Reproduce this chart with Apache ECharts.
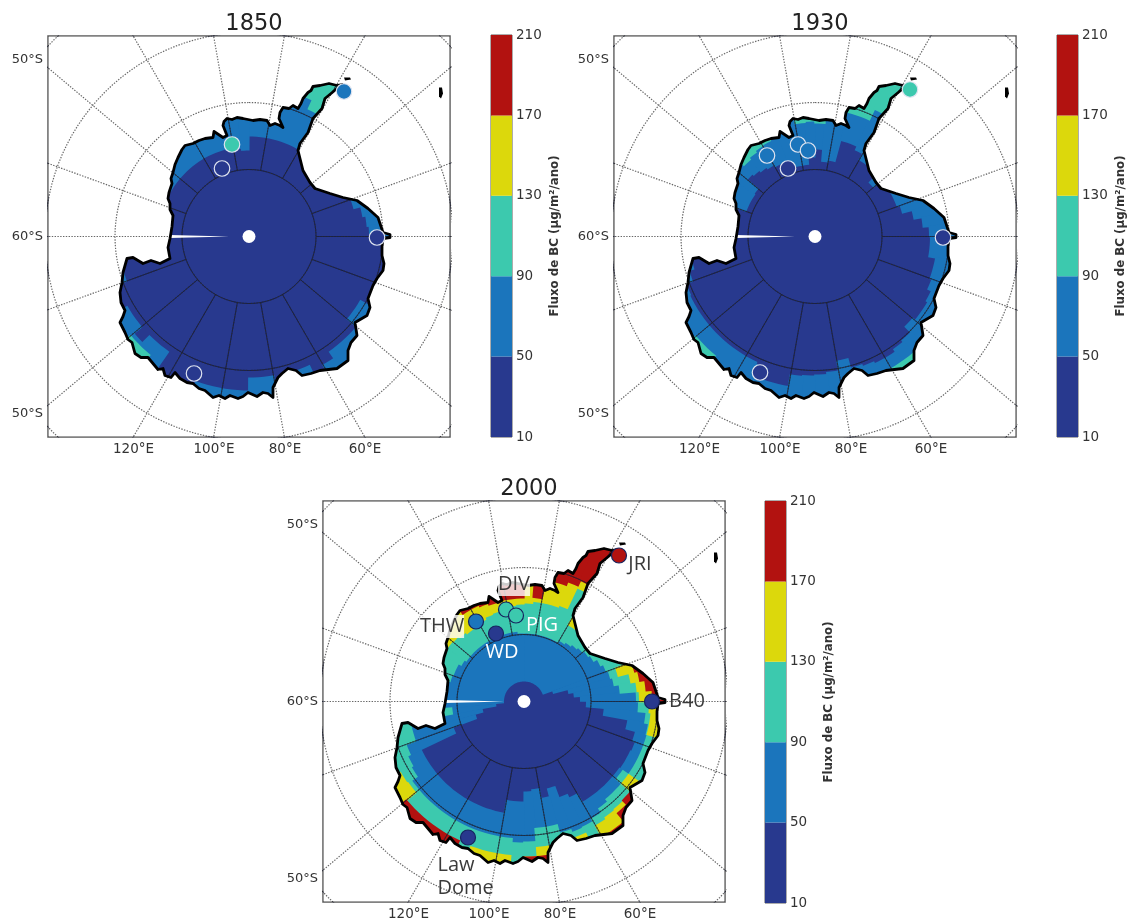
<!DOCTYPE html>
<html><head><meta charset="utf-8"><style>html,body{margin:0;padding:0;background:#fff}#c{width:1131px;height:921px}</style>
<script src="https://cdn.jsdelivr.net/npm/echarts@6/dist/echarts.min.js"></script></head><body><div id="c"></div>
<script>
const N = 999; // flux threshold never reached in this sector
const panelTitles = ['1850','1930','2000'];
const fluxEdges = [10,50,90,130,170,210];
const classColors = ['#28398e','#1b75bc','#3cc9ae','#dcd80c','#b21210'];
const lonTicks = [-115.5,-35,36,116];
const lonLabels = ['120°E','100°E','80°E','60°E'];
const latTicks = [-177,0,177];
const latLabels = ['50°S','60°S','50°S'];
const latCircleRadii = [67,134,204,277];
const meridianAngles = [10,30,50,70,90,110,130,150,170,190,210,230,250,270,290,310,330,350];

// coastline in map units, east/north of the pole
const coast = [[-79,-2],[-77,10],[-76,21],[-79,27],[-79,33],[-81,38],[-80,44],[-77,53],[-78,58],[-76,64],[-74,72],[-71,79],[-67,87],[-64,91],[-56,93],[-50,96],[-44,98],[-36,99],[-35,105],[-32,103],[-31,101],[-26,99],[-22,101],[-26,111],[-25,115],[-22,118],[-17,117],[-12,119],[-6,118],[4,116],[11,117],[18,116],[21,111],[26,113],[31,111],[34,109],[30,118],[31,124],[34,129],[40,128],[44,131],[49,128],[52,133],[54,138],[59,144],[62,146],[64,150],[71,151],[80,153],[88,151],[93,152],[88,148],[76,138],[73,128],[64,118],[59,104],[51,93],[49,86],[54,66],[61,54],[66,48],[81,43],[94,39],[108,36],[119,28],[129,19],[134,4],[134,2],[141,2],[141,-1],[134,-2],[133,-10],[133,-19],[135,-27],[134,-34],[128,-42],[124,-49],[119,-62],[121,-71],[118,-79],[106,-86],[108,-99],[102,-106],[99,-114],[99,-124],[88,-132],[71,-134],[62,-137],[53,-139],[47,-134],[39,-132],[33,-137],[29,-141],[24,-151],[24,-161],[19,-157],[14,-156],[8,-160],[-1,-156],[-6,-160],[-11,-162],[-19,-159],[-24,-162],[-30,-159],[-36,-161],[-44,-154],[-50,-152],[-56,-147],[-62,-146],[-69,-142],[-74,-136],[-78,-141],[-84,-139],[-86,-132],[-91,-133],[-96,-127],[-101,-121],[-108,-121],[-114,-117],[-117,-106],[-121,-103],[-124,-96],[-129,-86],[-126,-80],[-124,-74],[-128,-66],[-129,-56],[-127,-46],[-126,-36],[-122,-22],[-116,-21],[-106,-27],[-98,-24],[-89,-27],[-79,-22],[-81,-11],[-79,-2]];
const islandA = [[190,149],[193,149],[194,143],[192,138],[190,140]];
const islandB = [[95,159],[101,159],[102,157],[96,156]];
const seamWedge = [[-20,0],[-79,1.6],[-79,-1.6]];

// radius per 5-degree sector (clockwise from the top) where flux passes 50, 90, 130, 170
const r1850_50 = [100,100,100,100,100,100,100,N,N,N,N,N,N,N,108,115,118,120,N,N,N,N,N,N,128,128,140,140,140,148,N,142,N,N,141,141,154,154,154,154,N,N,N,140,140,150,140,140,N,N,130,N,N,N,N,N,N,N,N,N,90,90,90,90,90,90,90,90,90,89,88,86];
const r1850_90 = [N,N,N,N,150,140,140,N,N,N,N,N,N,N,N,N,N,N,N,N,N,N,N,N,N,N,N,N,N,N,N,N,N,N,N,N,N,N,N,N,N,N,N,N,154,154,N,N,N,N,N,N,N,N,N,N,N,N,N,N,N,N,N,N,N,N,N,N,N,N,N,N];
const r1930_50 = [87,75,77,99,99,95,88,N,N,76,N,N,87,87,90,100,108,114,115,115,122,122,124,128,130,130,127,135,137,140,140,138,136,126,136,138,139,140,152,152,140,138,138,138,138,138,138,138,138,137,130,125,N,N,N,N,N,N,73,73,73,74,88,86,84,82,80,75,72,72,72,79];
const r1930_90 = [113,N,N,128,128,140,140,N,N,N,N,N,N,N,N,N,N,N,N,N,N,N,N,N,N,N,N,N,152,152,N,N,N,N,N,N,N,N,N,N,N,N,N,N,155,155,N,N,N,N,N,N,N,N,N,N,N,N,N,N,N,N,N,100,102,104,105,N,N,N,114,115];
const r2000_50 = [20,20,20,20,20,20,20,20,20,20,20,20,20,20,30,45,50,56,62,80,105,115,118,117,117,116,116,116,116,116,106,102,90,98,88,90,100,100,113,113,113,113,113,113,113,113,113,113,113,75,50,42,28,20,20,20,20,20,20,20,20,20,20,20,20,20,20,20,20,20,20,20];
const r2000_90 = [68,68,68,68,68,68,70,72,74,76,78,80,84,87,89,91,96,112,114,122,126,127,127,127,127,120,127,127,130,135,138,139,136,127,127,140,141,137,137,137,137,137,137,137,137,137,137,130,128,125,115,115,72,N,N,N,N,76,75,75,72,70,70,70,70,70,70,70,70,70,70,68];
const r2000_130 = [98,100,100,100,102,125,88,N,N,N,N,N,N,N,97,108,113,115,125,127,127,N,N,N,N,127,N,140,141,143,N,145,N,N,146,155,N,154,154,154,N,N,N,N,N,N,141,142,N,N,N,N,N,N,N,N,N,N,N,N,N,93,92,90,88,89,90,92,93,95,96,97];
const r2000_170 = [N,104,N,123,127,133,134,N,N,N,N,N,N,N,114,117,122,128,N,N,N,N,N,N,N,N,139,145,156,156,N,N,N,N,155,155,N,N,N,N,N,153,153,153,153,153,N,N,N,N,N,N,N,N,N,N,N,N,N,N,N,N,N,N,N,106,106,104,102,103,103,103];
const panelThresholds = [[r1850_50,r1850_90],[r1930_50,r1930_90],[r2000_50,r2000_90,r2000_130,r2000_170]];

// ice-core sites: east, north, flux class colour per panel
const sites1850 = [[95,145,1],[-17,92,2],[-27,68,0],[128,-1,0],[-55,-137,0]];
const sites1930 = [[95,147,2],[-48,81,1],[-17,92,1],[-7,86,1],[-27,68,0],[128,-1,0],[-55,-136,0]];
const sites2000 = [[95,146,4],[-48,80,1],[-18,92,2],[-8,86,2],[-28,68,0],[128,0,0],[-56,-136,0]];
const panelSites = [sites1850,sites1930,sites2000];
const siteLabelText = ['JRI','DIV','THW','PIG','WD','B40','Law\nDome'];
const siteLabelX = [116,-10,-82,18,-22,163,-87];
const siteLabelY = [137,117,75,76,49,0,-175];
const siteLabelCol = ['#3a3a3a','#3a3a3a','#3a3a3a','#ffffff','#ffffff','#3a3a3a','#3a3a3a'];

const mapBoxes = [[48,36],[614,36],[323,501]];
const barBoxes = [[491,35],[1057,35],[765,501]];
const sectorWidth = 5, cellOuter = 185, seamPad = 0.35;

function polar(r,deg){const a=deg*Math.PI/180;return [r*Math.sin(a),r*Math.cos(a)];}
function arc(r,t0,t1){const o=[],n=Math.max(2,Math.ceil((t1-t0)/2.5));for(let i=0;i<=n;i++)o.push(polar(r,t0+(t1-t0)*i/n));return o;}
function cellItem(params,api){
  const t0=api.value(0)-seamPad,t1=api.value(1)+seamPad,r0=api.value(2),c=api.value(3);
  const pts=arc(r0,t0,t1).concat(arc(cellOuter,t0,t1).reverse()).map(p=>api.coord(p));
  return {type:'polygon',shape:{points:pts},style:{fill:classColors[c]}};
}
function maskItem(params,api){
  const f=[[-200.2,199.8],[200.2,199.8],[200.2,-199.8],[-200.2,-199.8],[-200.2,199.8]];
  const rev=coast.slice().reverse();
  return {type:'polygon',shape:{points:f.concat(rev).map(p=>api.coord(p))},style:{fill:'#fff'}};
}
function polyItem(poly,fill){return (params,api)=>({type:'polygon',shape:{points:poly.map(p=>api.coord(p))},style:{fill}});}
function graticule(){
  const d=[];
  latCircleRadii.forEach(r=>{for(let a=0;a<=360;a+=3)d.push(polar(r,a));d.push(['-','-']);});
  meridianAngles.forEach(a=>{d.push(polar(latCircleRadii[0],a));d.push(polar(latCircleRadii[3],a));d.push(['-','-']);});
  return d;
}
function cellsFor(thresholds){
  const cells=[[0,360,0,0]];
  thresholds.forEach((arr,j)=>{
    let k=0;
    while(k<arr.length){
      let e=k; while(e+1<arr.length&&arr[e+1]===arr[k])e++;
      if(arr[k]!==N)cells.push([k*sectorWidth,(e+1)*sectorWidth,arr[k],j+1]);
      k=e+1;
    }
  });
  return cells;
}

const grid=[],xAxis=[],yAxis=[],series=[],title=[];
mapBoxes.forEach((b,i)=>{
  grid.push({left:b[0],top:b[1],width:402,height:401,show:true,borderColor:'#5a5a5a',borderWidth:1.5,backgroundColor:'#fff'});
  xAxis.push({gridIndex:i,type:'value',min:-201,max:201,position:'bottom',axisLine:{show:false},axisTick:{show:false},splitLine:{show:false},
    axisLabel:{customValues:lonTicks,margin:5,fontFamily:'DejaVu Sans',fontSize:13.5,color:'#333',formatter:v=>lonLabels[lonTicks.indexOf(v)]}});
  yAxis.push({gridIndex:i,type:'value',min:-200.5,max:200.5,position:'left',axisLine:{show:false},axisTick:{show:false},splitLine:{show:false},
    axisLabel:{customValues:latTicks,margin:5,fontFamily:'DejaVu Sans',fontSize:13,color:'#333',formatter:v=>latLabels[latTicks.indexOf(v)]}});
  title.push({text:panelTitles[i],left:b[0]+201,top:b[1]-28,textAlign:'center',textStyle:{fontFamily:'DejaVu Sans',fontSize:22.5,fontWeight:'normal',color:'#222'}});
  const on={xAxisIndex:i,yAxisIndex:i,silent:true,animation:false};
  const lines=graticule();
  series.push({...on,type:'custom',z:1,data:cellsFor(panelThresholds[i]),renderItem:cellItem});
  // thin solid graticule, visible only over the ice sheet because the mask covers the ocean
  series.push({...on,type:'line',z:1.5,data:lines,showSymbol:false,clip:true,connectNulls:false,lineStyle:{color:'#0c1130',width:0.9,opacity:.75}});
  series.push({...on,type:'custom',z:2,data:[[0,0]],renderItem:maskItem});
  series.push({...on,type:'line',z:3,data:lines,showSymbol:false,clip:true,connectNulls:false,lineStyle:{color:'rgba(45,45,45,.72)',width:1.2,type:[1.4,1.4]}});
  series.push({...on,type:'custom',z:4,data:[[0,0]],renderItem:polyItem(seamWedge,'#fff')});
  series.push({...on,type:'custom',z:4,data:[[0,0]],renderItem:polyItem(islandA,'#000')});
  series.push({...on,type:'custom',z:4,data:[[0,0]],renderItem:polyItem(islandB,'#000')});
  series.push({...on,type:'line',z:5,data:coast,showSymbol:false,lineStyle:{color:'#000',width:2.8,join:'round'}});
  series.push({...on,type:'scatter',z:6,data:[[0,0]],symbolSize:13,itemStyle:{color:'#fff',opacity:1}});
  series.push({...on,type:'scatter',z:7,symbolSize:i===2?15:15.5,
    data:panelSites[i].map(s=>({value:[s[0],s[1]],itemStyle:{opacity:1,color:classColors[s[2]],borderColor:i===2?'#16245f':'#dfe4f0',borderWidth:1.2}}))});
  if(i===2){
    series.push({...on,type:'scatter',z:8,symbolSize:1,itemStyle:{color:'rgba(0,0,0,0)',opacity:1},
      data:siteLabelText.map((t,j)=>({value:[siteLabelX[j],siteLabelY[j]],name:t,
        label:{show:true,opacity:1,formatter:'{b}',position:t.includes('\n')?'right':'inside',distance:0,align:t.includes('\n')?'left':'center',verticalAlign:'middle',
          fontFamily:'Open Sans',fontSize:20,lineHeight:23,color:siteLabelCol[j],
          backgroundColor:(t==='DIV'||t==='THW')?'rgba(255,255,255,.8)':'transparent'}}))});
  }
});
barBoxes.forEach((b,n)=>{
  const i=mapBoxes.length+n;
  grid.push({left:b[0],top:b[1],width:21,height:402,show:true,borderColor:'#5a5a5a',borderWidth:1});
  xAxis.push({gridIndex:i,type:'value',min:0,max:1,show:false});
  yAxis.push({gridIndex:i,type:'value',min:fluxEdges[0],max:fluxEdges[5],position:'right',axisLine:{show:false},axisTick:{show:false},splitLine:{show:false},
    axisLabel:{customValues:fluxEdges,margin:4,fontFamily:'DejaVu Sans',fontSize:13.5,color:'#333'},
    name:'Fluxo de BC (µg/m²/ano)',nameLocation:'middle',nameRotate:90,nameGap:37,nameTextStyle:{fontFamily:'DejaVu Sans',fontSize:11.8,fontWeight:'bold',color:'#333'}});
  series.push({type:'custom',xAxisIndex:i,yAxisIndex:i,silent:true,animation:false,z:1,
    data:classColors.map((c,j)=>[j,fluxEdges[j],fluxEdges[j+1]]),
    renderItem:(p,api)=>{const a=api.coord([0,api.value(1)]),e=api.coord([1,api.value(2)]);
      return {type:'rect',shape:{x:a[0],y:e[1],width:e[0]-a[0],height:a[1]-e[1]},style:{fill:classColors[api.value(0)]}};}});
});
const chart=echarts.init(document.getElementById('c'),null,{renderer:'canvas'});
chart.setOption({backgroundColor:'#fff',animation:false,tooltip:{show:false},title,grid,xAxis,yAxis,series});
</script></body></html>
